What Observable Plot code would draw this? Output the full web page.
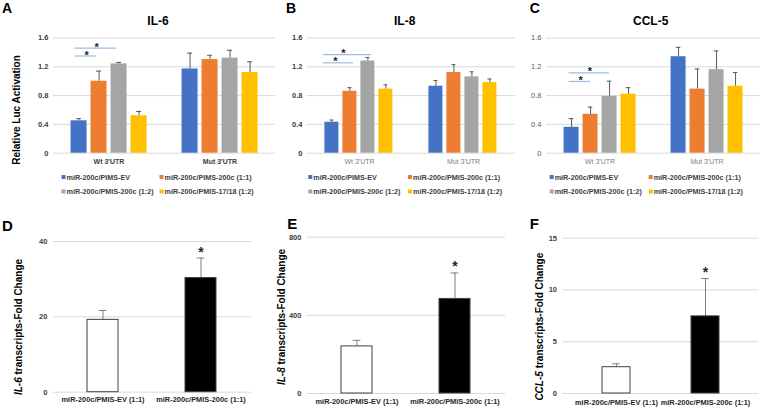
<!DOCTYPE html>
<html><head><meta charset="utf-8">
<script src="https://cdn.jsdelivr.net/npm/d3@7"></script>
<script src="https://cdn.jsdelivr.net/npm/@observablehq/plot@0.6"></script>
<style>
html,body{margin:0;padding:0;background:#fff;}
#fig{position:relative;width:762px;height:408px;overflow:hidden;background:#fff;}
#fig svg{position:absolute;}
</style></head><body><div id="fig"></div>
<script>
// ---------- data ----------
const groups = ["Wt 3'UTR", "Mut 3'UTR"];
const seriesKeys = ["EV", "200c (1:1)", "200c (1:2)", "17/18 (1:2)"];
const legendLabelsA = ["miR-200c/PIMS-EV", "miR-200c/PIMS-200c (1:1)", "miR-200c/PMIS-200c (1:2)", "miR-200c/PMIS-17/18 (1:2)"];
const legendLabelsBC = ["miR-200c/PIMS-EV", "miR-200c/PMIS-200c (1:1)", "miR-200c/PMIS-200c (1:2)", "miR-200c/PMIS-17/18 (1:2)"];
const seriesColors = ["#4472C4", "#ED7D31", "#A5A5A5", "#FFC000"];
const lucTicks = [0, 0.4, 0.8, 1.2, 1.6];
const lucTitles = ["IL-6", "IL-8", "CCL-5"];

const il6Wt = [0.45, 1.00, 1.24, 0.52];
const il6WtErr = [0.03, 0.14, 0.02, 0.06];
const il6Mut = [1.17, 1.30, 1.32, 1.12];
const il6MutErr = [0.22, 0.06, 0.11, 0.15];

const il8Wt = [0.43, 0.86, 1.28, 0.89];
const il8WtErr = [0.03, 0.05, 0.05, 0.06];
const il8Mut = [0.93, 1.12, 1.06, 0.98];
const il8MutErr = [0.08, 0.11, 0.07, 0.05];

const ccl5Wt = [0.36, 0.54, 0.79, 0.82];
const ccl5WtErr = [0.12, 0.10, 0.21, 0.09];
const ccl5Mut = [1.34, 0.89, 1.16, 0.93];
const ccl5MutErr = [0.13, 0.28, 0.26, 0.19];

// significance brackets (from EV to these series), bracket heights
const sigTargets = ["200c (1:2)", "200c (1:1)"];
const il6Sig = [1.46, 1.35];
const il8Sig = [1.37, 1.255];
const ccl5Sig = [1.117, 0.996];

const foldCats = ["miR-200c/PMIS-EV (1:1)", "miR-200c/PMIS-200c (1:1)"];
const foldFills = ["#ffffff", "#000000"];
const foldSigCat = "miR-200c/PMIS-200c (1:1)";
const il6Fold = [19.2, 30.3];
const il6FoldErr = [2.5, 5.3];
const il6FoldTicks = [0, 20, 40];
const il8Fold = [241, 484];
const il8FoldErr = [31, 133];
const il8FoldTicks = [0, 400, 800];
const ccl5Fold = [2.54, 7.45];
const ccl5FoldErr = [0.33, 3.65];
const ccl5FoldTicks = [0, 5, 10, 15];

// ---------- layout ----------
const FONT = '"Liberation Sans", Arial, Helvetica, sans-serif';
const fig = document.getElementById("fig");
function place(el, left, top) {
  el.style.position = "absolute";
  el.style.left = left + "px";
  el.style.top = top + "px";
  fig.appendChild(el);
}

function lucPanel(c) {
  const rows = [];
  groups.forEach((g, gi) => seriesKeys.forEach((k, si) =>
    rows.push({group: g, key: k, value: c.values[gi][si], err: c.errs[gi][si]})));
  const sig = sigTargets.map((t, i) => ({group: groups[0], from: seriesKeys[0], mid: seriesKeys[1], to: t, y: c.sig[i]}));
  return Plot.plot({
    width: c.w, height: 140,
    marginTop: 7.5, marginBottom: 17.3, marginLeft: c.ml, marginRight: c.mr,
    style: {fontFamily: FONT, fontSize: "7px", background: "transparent", overflow: "visible"},
    fx: {domain: groups, padding: 0},
    x: {domain: seriesKeys, paddingInner: c.pi, paddingOuter: c.po, axis: null},
    y: {domain: [0, 1.6]},
    color: {domain: seriesKeys, range: seriesColors},
    marks: [
      Plot.ruleY(lucTicks, {stroke: "#d9d9d9"}),
      Plot.barY(rows, {fx: "group", x: "key", y: "value", fill: "key"}),
      Plot.ruleX(rows, {fx: "group", x: "key", y1: "value", y2: d => d.value + d.err, stroke: "#595959"}),
      Plot.tickY(rows, {fx: "group", x: "key", y: d => d.value + d.err, stroke: "#595959", insetLeft: c.cap, insetRight: c.cap}),
      Plot.ruleY(sig, {fx: "group", x1: "from", x2: "to", y: "y", stroke: "#9dbbe0", strokeWidth: 1.2, insetLeft: c.bl, insetRight: c.br}),
      Plot.text(sig.slice(0, 1), {fx: "group", x: "mid", y: "y", text: () => "*", dx: c.s1, dy: -1, fontSize: 11, fontWeight: "bold", fill: "#262626"}),
      Plot.text(sig.slice(1, 2), {fx: "group", x: "from", y: "y", text: () => "*", dx: c.s2, dy: -1, fontSize: 11, fontWeight: "bold", fill: "#262626"}),
      Plot.axisY({ticks: lucTicks, tickSize: 0, tickPadding: c.tp, label: null, tickFormat: d => String(d), fontSize: 7.5, fontWeight: c.tickWeight, fill: c.tickColor}),
      Plot.axisFx({anchor: "bottom", tickSize: 0, tickPadding: 6, label: null, fontSize: 7, fontWeight: c.groupWeight, fill: c.groupColor})
    ]
  });
}

function foldPanel(c) {
  const rows = foldCats.map((k, i) => ({cat: k, value: c.values[i], err: c.errs[i]}));
  const ymax = c.ticks[c.ticks.length - 1];
  return Plot.plot({
    width: c.w, height: 180,
    marginTop: c.mt, marginBottom: c.mb, marginLeft: c.ml, marginRight: c.mr,
    style: {fontFamily: FONT, fontSize: "7px", background: "transparent", overflow: "visible"},
    x: {domain: foldCats, paddingInner: c.pi, paddingOuter: c.po},
    y: {domain: [0, ymax]},
    color: {domain: foldCats, range: foldFills},
    marks: [
      Plot.ruleY(c.ticks, {stroke: "#d9d9d9"}),
      Plot.ruleX(rows, {x: "cat", y1: "value", y2: d => d.value + d.err, stroke: "#7f7f7f"}),
      Plot.tickY(rows, {x: "cat", y: d => d.value + d.err, stroke: "#7f7f7f", insetLeft: c.cap, insetRight: c.cap}),
      Plot.barY(rows, {x: "cat", y: "value", fill: "cat", stroke: "#404040", strokeWidth: 1}),
      Plot.text(rows.filter(d => d.cat === foldSigCat), {x: "cat", y: d => d.value + d.err, text: () => "*", dy: -6, fontSize: 14, fontWeight: "bold", fill: "#262626"}),
      Plot.axisY({ticks: c.ticks, tickSize: 0, tickPadding: 6, label: null, tickFormat: d => String(d), fontSize: 7.5, fontWeight: "bold", fill: "#404040"}),
      Plot.axisX({tickSize: 0, tickPadding: c.xp, label: null, fontSize: 7.4, fontWeight: "bold", fill: "#262626"})
    ]
  });
}

const lucCfg = [
  {values: [il6Wt, il6Mut], errs: [il6WtErr, il6MutErr], sig: il6Sig, left: 0, w: 282, ml: 52.45, mr: 6.15, pi: 0.208, po: 0.869,
   cap: 5.5, bl: 4, br: 10.5, s1: -2.4, s2: 7.7, tp: 5, tickWeight: "bold", tickColor: "#404040", groupWeight: "bold", groupColor: "#404040"},
  {values: [il8Wt, il8Mut], errs: [il8WtErr, il8MutErr], sig: il8Sig, left: 254, w: 266, ml: 52.6, mr: 4.6, pi: 0.21, po: 0.85,
   cap: 5, bl: -1.3, br: 3.6, s1: -6.4, s2: 3.5, tp: 5, tickWeight: "bold", tickColor: "#404040", groupWeight: "normal", groupColor: "#808080"},
  {values: [ccl5Wt, ccl5Mut], errs: [ccl5WtErr, ccl5MutErr], sig: ccl5Sig, left: 508, w: 254, ml: 37.45, mr: 1.15, pi: 0.22, po: 0.84,
   cap: 5.2, bl: 5, br: 7.5, s1: -0.7, s2: 9, tp: 5, tickWeight: "normal", tickColor: "#606060", groupWeight: "normal", groupColor: "#808080"}
];
lucCfg.forEach(c => place(lucPanel(c), c.left, 30));

const foldCfg = [
  {values: il6Fold, errs: il6FoldErr, ticks: il6FoldTicks, left: 0, w: 256, mt: 16, mb: 13.3, ml: 52.96, mr: 4.7, pi: 0.68, po: 0.35, cap: 11.7, xp: 4.6},
  {values: il8Fold, errs: il8FoldErr, ticks: il8FoldTicks, left: 254, w: 256, mt: 11.7, mb: 12, ml: 52.96, mr: 4.7, pi: 0.68, po: 0.35, cap: 11.7, xp: 5},
  {values: ccl5Fold, errs: ccl5FoldErr, ticks: ccl5FoldTicks, left: 508, w: 254, mt: 12.7, mb: 12, ml: 54.5, mr: 3.5, pi: 0.684, po: 0.431, cap: 10.2, xp: 6}
];
foldCfg.forEach(c => place(foldPanel(c), c.left, 225));

// ---------- overlay text: letters, titles, legends, y labels ----------
const ov = d3.create("svg").attr("width", 762).attr("height", 408)
  .attr("font-family", FONT).style("overflow", "visible");
place(ov.node(), 0, 0);

const letters = [
  {t: "A", x: 2, y: 13, s: 14}, {t: "B", x: 286, y: 13, s: 14}, {t: "C", x: 529.7, y: 13, s: 14},
  {t: "D", x: 2, y: 231, s: 15}, {t: "E", x: 287.3, y: 228.5, s: 15}, {t: "F", x: 529.7, y: 228.5, s: 15}
];
letters.forEach(l => ov.append("text").attr("x", l.x).attr("y", l.y).attr("font-size", l.s)
  .attr("font-weight", "bold").attr("fill", "#000").text(l.t));

const titleX = [158, 404.7, 650.7];
lucTitles.forEach((t, i) => ov.append("text").attr("x", titleX[i]).attr("y", 25.3)
  .attr("text-anchor", "middle").attr("font-size", 12).attr("font-weight", "bold").attr("fill", "#000").text(t));

const legendPos = [
  {labels: legendLabelsA, x1: 61.5, x2: 159.5},
  {labels: legendLabelsBC, x1: 308.3, x2: 408},
  {labels: legendLabelsBC, x1: 549.7, x2: 648.7}
];
const rowsY = [177, 191.5];
legendPos.forEach(p => {
  p.labels.forEach((lab, i) => {
    const x = i % 2 === 0 ? p.x1 : p.x2;
    const y = rowsY[Math.floor(i / 2)];
    ov.append("rect").attr("x", x).attr("y", y - 2).attr("width", 4).attr("height", 4).attr("fill", seriesColors[i]);
    ov.append("text").attr("x", x + 5).attr("y", y).attr("dy", "0.35em").attr("font-size", 7.2)
      .attr("font-weight", "bold").attr("fill", "#404040").text(lab);
  });
});

function yLabel(x, y, parts) {
  const t = ov.append("text").attr("transform", `translate(${x},${y}) rotate(-90)`)
    .attr("text-anchor", "middle").attr("dy", "0.35em").attr("font-size", 10).attr("font-weight", "bold").attr("fill", "#000");
  parts.forEach(p => t.append("tspan").attr("font-style", p.i ? "italic" : "normal").text(p.t));
}
yLabel(16.7, 110, [{t: "Relative Luc Activation"}]);
yLabel(18.3, 327, [{t: "IL-6", i: true}, {t: " transcripts-Fold Change"}]);
yLabel(281.7, 317, [{t: "IL-8", i: true}, {t: " transcripts-Fold Change"}]);
yLabel(539.7, 326.7, [{t: "CCL-5", i: true}, {t: " transcripts-Fold Change"}]);
</script></body></html>
